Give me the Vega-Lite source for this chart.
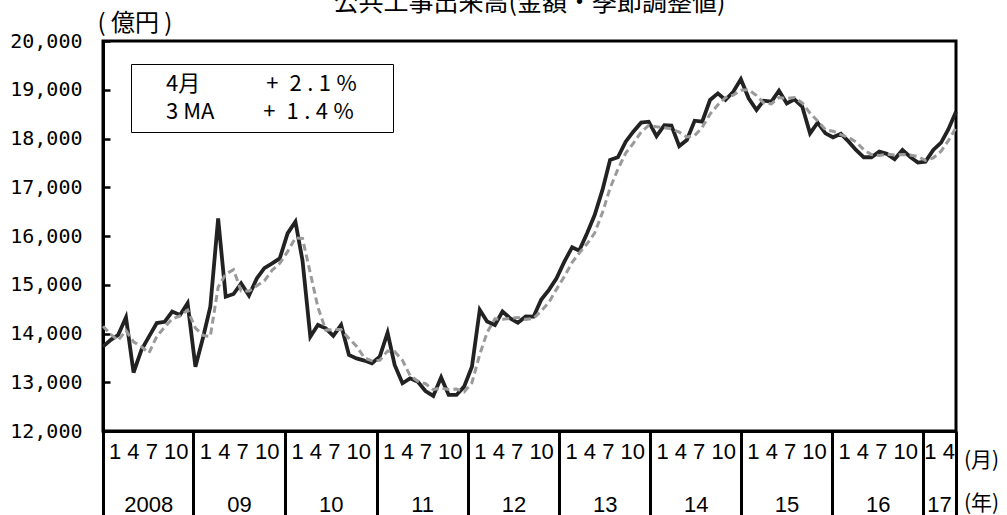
{
  "$schema": "https://vega.github.io/schema/vega-lite/v6.json",
  "width": 853,
  "height": 390,
  "autosize": {"type": "none"},
  "padding": {"left": 103, "top": 41, "right": 51, "bottom": 84},
  "background": "white",
  "title": {"text": "公共工事出来高(金額・季節調整値)", "font": "Noto Sans CJK JP", "fontSize": 25, "fontWeight": "normal", "color": "black", "anchor": "middle", "frame": "group", "baseline": "alphabetic", "offset": 0, "dy": 25},
  "config": {
    "view": {"stroke": "black", "strokeWidth": 3},
    "axis": {"labelColor": "black", "grid": false}
  },
  "data": {"values": [
    {"d":"2008-01-01","v":13730,"ma":14150},{"d":"2008-02-01","v":13870,"ma":13980},{"d":"2008-03-01","v":13970,"ma":13860},{"d":"2008-04-01","v":14330,"ma":14060},
    {"d":"2008-05-01","v":13200,"ma":13830},{"d":"2008-06-01","v":13660,"ma":13730},{"d":"2008-07-01","v":13935,"ma":13600},{"d":"2008-08-01","v":14215,"ma":13940},
    {"d":"2008-09-01","v":14240,"ma":14130},{"d":"2008-10-01","v":14450,"ma":14300},{"d":"2008-11-01","v":14380,"ma":14360},{"d":"2008-12-01","v":14620,"ma":14480},
    {"d":"2009-01-01","v":13320,"ma":14110},{"d":"2009-02-01","v":13935,"ma":13960},{"d":"2009-03-01","v":14550,"ma":13940},{"d":"2009-04-01","v":16360,"ma":14950},
    {"d":"2009-05-01","v":14755,"ma":15220},{"d":"2009-06-01","v":14810,"ma":15310},{"d":"2009-07-01","v":15030,"ma":14870},{"d":"2009-08-01","v":14780,"ma":14870},
    {"d":"2009-09-01","v":15130,"ma":14980},{"d":"2009-10-01","v":15340,"ma":15080},{"d":"2009-11-01","v":15440,"ma":15300},{"d":"2009-12-01","v":15540,"ma":15440},
    {"d":"2010-01-01","v":16055,"ma":15680},{"d":"2010-02-01","v":16295,"ma":15960},{"d":"2010-03-01","v":15500,"ma":15950},{"d":"2010-04-01","v":13935,"ma":15240},
    {"d":"2010-05-01","v":14175,"ma":14540},{"d":"2010-06-01","v":14105,"ma":14070},{"d":"2010-07-01","v":13950,"ma":14080},{"d":"2010-08-01","v":14175,"ma":14080},
    {"d":"2010-09-01","v":13560,"ma":13900},{"d":"2010-10-01","v":13490,"ma":13740},{"d":"2010-11-01","v":13445,"ma":13500},{"d":"2010-12-01","v":13390,"ma":13440},
    {"d":"2011-01-01","v":13525,"ma":13450},{"d":"2011-02-01","v":14015,"ma":13640},{"d":"2011-03-01","v":13355,"ma":13630},{"d":"2011-04-01","v":12980,"ma":13450},
    {"d":"2011-05-01","v":13080,"ma":13140},{"d":"2011-06-01","v":13010,"ma":13020},{"d":"2011-07-01","v":12820,"ma":12970},{"d":"2011-08-01","v":12720,"ma":12850},
    {"d":"2011-09-01","v":13100,"ma":12880},{"d":"2011-10-01","v":12740,"ma":12850},{"d":"2011-11-01","v":12740,"ma":12860},{"d":"2011-12-01","v":12910,"ma":12800},
    {"d":"2012-01-01","v":13320,"ma":12990},{"d":"2012-02-01","v":14485,"ma":13570},{"d":"2012-03-01","v":14245,"ma":14020},{"d":"2012-04-01","v":14175,"ma":14300},
    {"d":"2012-05-01","v":14450,"ma":14290},{"d":"2012-06-01","v":14310,"ma":14310},{"d":"2012-07-01","v":14220,"ma":14330},{"d":"2012-08-01","v":14350,"ma":14290},
    {"d":"2012-09-01","v":14345,"ma":14310},{"d":"2012-10-01","v":14690,"ma":14460},{"d":"2012-11-01","v":14895,"ma":14640},{"d":"2012-12-01","v":15130,"ma":14910},
    {"d":"2013-01-01","v":15475,"ma":15170},{"d":"2013-02-01","v":15770,"ma":15460},{"d":"2013-03-01","v":15700,"ma":15650},{"d":"2013-04-01","v":16055,"ma":15840},
    {"d":"2013-05-01","v":16430,"ma":16060},{"d":"2013-06-01","v":16945,"ma":16480},{"d":"2013-07-01","v":17560,"ma":16980},{"d":"2013-08-01","v":17615,"ma":17370},
    {"d":"2013-09-01","v":17935,"ma":17700},{"d":"2013-10-01","v":18140,"ma":17900},{"d":"2013-11-01","v":18325,"ma":18130},{"d":"2013-12-01","v":18345,"ma":18270},
    {"d":"2014-01-01","v":18050,"ma":18240},{"d":"2014-02-01","v":18275,"ma":18220},{"d":"2014-03-01","v":18265,"ma":18200},{"d":"2014-04-01","v":17845,"ma":18130},
    {"d":"2014-05-01","v":17970,"ma":18030},{"d":"2014-06-01","v":18365,"ma":18060},{"d":"2014-07-01","v":18345,"ma":18230},{"d":"2014-08-01","v":18790,"ma":18500},
    {"d":"2014-09-01","v":18925,"ma":18690},{"d":"2014-10-01","v":18790,"ma":18840},{"d":"2014-11-01","v":18960,"ma":18890},{"d":"2014-12-01","v":19215,"ma":18990},
    {"d":"2015-01-01","v":18825,"ma":19000},{"d":"2015-02-01","v":18585,"ma":18880},{"d":"2015-03-01","v":18775,"ma":18730},{"d":"2015-04-01","v":18755,"ma":18710},
    {"d":"2015-05-01","v":18980,"ma":18840},{"d":"2015-06-01","v":18720,"ma":18820},{"d":"2015-07-01","v":18805,"ma":18840},{"d":"2015-08-01","v":18655,"ma":18730},
    {"d":"2015-09-01","v":18105,"ma":18520},{"d":"2015-10-01","v":18325,"ma":18360},{"d":"2015-11-01","v":18105,"ma":18180},{"d":"2015-12-01","v":18025,"ma":18150},
    {"d":"2016-01-01","v":18095,"ma":18080},{"d":"2016-02-01","v":17935,"ma":18020},{"d":"2016-03-01","v":17765,"ma":17930},{"d":"2016-04-01","v":17615,"ma":17770},
    {"d":"2016-05-01","v":17615,"ma":17670},{"d":"2016-06-01","v":17730,"ma":17650},{"d":"2016-07-01","v":17685,"ma":17680},{"d":"2016-08-01","v":17575,"ma":17660},
    {"d":"2016-09-01","v":17765,"ma":17670},{"d":"2016-10-01","v":17625,"ma":17660},{"d":"2016-11-01","v":17505,"ma":17630},{"d":"2016-12-01","v":17525,"ma":17550},
    {"d":"2017-01-01","v":17765,"ma":17600},{"d":"2017-02-01","v":17915,"ma":17740},{"d":"2017-03-01","v":18180,"ma":17950},{"d":"2017-04-01","v":18550,"ma":18220}
  ]},
  "transform": [{"fold": ["v", "ma"], "as": ["key", "val"]}],
  "encoding": {
    "y": {
      "field": "val", "type": "quantitative",
      "scale": {"domain": [12000, 20000], "nice": false, "zero": false},
      "axis": {
        "values": [12000, 13000, 14000, 15000, 16000, 17000, 18000, 19000, 20000],
        "labelExpr": "format(datum.value, ',')",
        "labelFont": "DejaVu Sans Mono", "labelFontSize": 20, "labelColor": "black",
        "tickSize": -7, "tickWidth": 2.5, "tickColor": "black",
        "domainColor": "black", "domainWidth": 3,
        "labelPadding": 28,
        "title": "( 億円 )", "titleAngle": 0, "titleAlign": "left", "titleBaseline": "alphabetic",
        "titleX": -6, "titleY": -11, "titleFont": "Noto Sans CJK JP", "titleFontSize": 24, "titleFontWeight": "normal", "titleColor": "black"
      }
    }
  },
  "layer": [
    {
      "transform": [{"filter": "datum.key == 'v'"}],
      "mark": {"type": "line", "strokeWidth": 3.8, "color": "#222222", "strokeJoin": "miter"},
      "encoding": {
        "x": {
          "field": "d", "type": "temporal",
          "scale": {"domain": [{"year": 2008, "month": 1, "date": 1, "utc": true}, {"year": 2017, "month": 4, "date": 1, "utc": true}]},
          "axis": {
            "orient": "bottom",
            "values": [
              {"year": 2008, "month": 1, "date": 1, "utc": true},
              {"year": 2008, "month": 12, "date": 24, "utc": true},
              {"year": 2009, "month": 12, "date": 22, "utc": true},
              {"year": 2010, "month": 12, "date": 20, "utc": true},
              {"year": 2011, "month": 12, "date": 17, "utc": true},
              {"year": 2012, "month": 12, "date": 12, "utc": true},
              {"year": 2013, "month": 12, "date": 6, "utc": true},
              {"year": 2014, "month": 12, "date": 2, "utc": true},
              {"year": 2015, "month": 11, "date": 26, "utc": true},
              {"year": 2016, "month": 11, "date": 22, "utc": true},
              {"year": 2017, "month": 4, "date": 1, "utc": true}
            ],
            "tickSize": 84, "tickWidth": 3, "tickColor": "black",
            "labelExpr": "utcyear(datum.value) == 2017 ? ['(月)', '(年)'] : ''",
            "labelLineHeight": 43, "labelPadding": -49, "labelOffset": 25, "labelBaseline": "alphabetic", "labelAlign": "center",
            "labelFont": "Noto Sans CJK JP", "labelFontSize": 21, "labelColor": "black",
            "labelOverlap": false, "labelFlush": false, "labelBound": false,
            "domain": true, "domainWidth": 3, "domainColor": "black",
            "title": null
          }
        },
        "stroke": {
          "datum": "4月",
          "scale": {"domain": ["4月", "3MA"], "range": ["#222222", "#9a9a9a"]},
          "legend": {
            "orient": "none", "legendX": 28, "legendY": 23, "title": null,
            "strokeColor": "black", "padding": 9, "rowPadding": 6,
            "symbolOpacity": 0, "symbolSize": 16, "labelOffset": 4, "labelLimit": 500,
            "labelFont": "Noto Sans CJK JP", "labelFontSize": 22, "labelColor": "black",
            "labelExpr": "datum.label == '4月' ? '4月　　　+\u2005\u20052\u2005.\u20051\u2005%\u2002\u2800' : '3 MA　　 +\u2005\u20051\u2005.\u20054\u2005%\u2002\u2800'"
          }
        }
      }
    },
    {
      "transform": [{"filter": "datum.key == 'ma'"}],
      "mark": {"type": "line", "strokeWidth": 3, "strokeDash": [7, 4]},
      "encoding": {
        "x": {
          "field": "d", "type": "temporal",
          "axis": {
            "orient": "bottom",
            "values": [
              {"year": 2008, "month": 6, "date": 28, "utc": true},
              {"year": 2009, "month": 6, "date": 23, "utc": true},
              {"year": 2010, "month": 6, "date": 21, "utc": true},
              {"year": 2011, "month": 6, "date": 18, "utc": true},
              {"year": 2012, "month": 6, "date": 14, "utc": true},
              {"year": 2013, "month": 6, "date": 10, "utc": true},
              {"year": 2014, "month": 6, "date": 5, "utc": true},
              {"year": 2015, "month": 5, "date": 31, "utc": true},
              {"year": 2016, "month": 5, "date": 26, "utc": true},
              {"year": 2017, "month": 1, "date": 24, "utc": true}
            ],
            "ticks": false, "domain": false,
            "labelExpr": "[utcyear(datum.value) == 2017 ? '1 4' : '1 4 7 10', utcyear(datum.value) == 2008 ? '2008' : substring('' + utcyear(datum.value), 2, 4)]",
            "labelLineHeight": 53, "labelPadding": 27, "labelBaseline": "alphabetic", "labelAlign": "center",
            "labelFont": "Liberation Sans", "labelFontSize": 22, "labelColor": "black",
            "labelOverlap": false, "labelFlush": false, "labelBound": false,
            "title": null
          }
        },
        "stroke": {"datum": "3MA"}
      }
    }
  ],
  "resolve": {"axis": {"x": "independent"}}
}
